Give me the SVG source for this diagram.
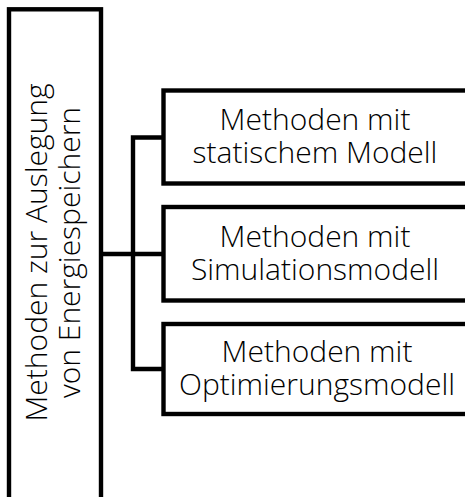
<svg xmlns="http://www.w3.org/2000/svg" width="465" height="497" viewBox="0 0 465 497">
  <style>
    .box { fill: #ffffff; stroke: #000000; stroke-width: 4.4; }
    .wire { fill: none; stroke: #000000; stroke-width: 4.4; stroke-linejoin: miter; stroke-linecap: square; }
    .lbl { font-family: "Open Sans", "Noto Sans", "DejaVu Sans", sans-serif; font-size: 30px; font-weight: 300; fill: #000000; text-anchor: middle; }
  </style>
  <rect width="465" height="497" fill="#ffffff"/>

  <!-- connectors -->
  <g id="connectors">
    <path class="wire" d="M101,254 H163"/>
    <path class="wire" d="M163,137.5 H133 V369 H163"/>
  </g>

  <!-- root node -->
  <g id="root">
    <rect class="box" x="9" y="9.3" width="92" height="490"/>
    <text class="lbl" transform="translate(47,252.5) rotate(-90)" x="0" y="0">Methoden zur Auslegung</text>
    <text class="lbl" transform="translate(80,252.5) rotate(-90)" x="0" y="0">von Energiespeichern</text>
  </g>

  <!-- child nodes -->
  <g id="static">
    <rect class="box" x="163.5" y="90.5" width="304" height="93"/>
    <text class="lbl" x="315" y="130">Methoden mit</text>
    <text class="lbl" x="315" y="163">statischem Modell</text>
  </g>

  <g id="simulation">
    <rect class="box" x="163.5" y="207" width="304" height="93.5"/>
    <text class="lbl" x="315" y="247">Methoden mit</text>
    <text class="lbl" x="315" y="280">Simulationsmodell</text>
  </g>

  <g id="optimization">
    <rect class="box" x="163.5" y="324" width="304" height="90"/>
    <text class="lbl" x="317" y="362">Methoden mit</text>
    <text class="lbl" x="317" y="395">Optimierungsmodell</text>
  </g>
</svg>
